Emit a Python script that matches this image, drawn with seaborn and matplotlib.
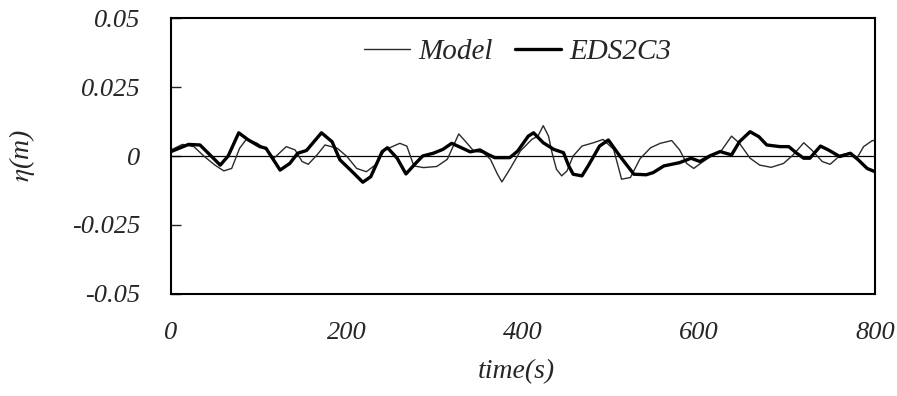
import matplotlib
matplotlib.use("Agg")
import matplotlib.pyplot as plt
import seaborn as sns
import pandas as pd

# ---- data ----
model_t = [0, 13, 26, 38, 50, 60, 69, 78, 86, 98, 109, 117, 131, 141, 149, 156, 166, 175, 189, 200,
           211, 222, 232, 243, 260, 268, 276, 287, 302, 314, 327, 336, 344, 355, 363, 371, 376, 385,
           397, 410, 417, 423, 429, 433, 438, 444, 450, 457, 467, 480, 491, 503, 512, 522, 533, 545,
           556, 569, 578, 586, 594, 603, 614, 626, 637, 646, 658, 669, 682, 696, 707, 719, 728, 740,
           749, 761, 770, 780, 787, 797, 800]
model_eta = [0.0022, 0.0042, 0.0034, -0.0002, -0.0033, -0.0054, -0.0045, 0.0028, 0.0062, 0.0046,
             0.0022, -0.0008, 0.0034, 0.0022, -0.0020, -0.0030, 0.0004, 0.0040, 0.0028, -0.0002,
             -0.0045, -0.0057, -0.0033, 0.0022, 0.0046, 0.0036, -0.0036, -0.0042, -0.0038, -0.0012,
             0.0080, 0.0048, 0.0018, 0.0012, -0.0012, -0.0066, -0.0094, -0.0048, 0.0018, 0.0060,
             0.0072, 0.0110, 0.0072, 0.0012, -0.0048, -0.0072, -0.0054, 0.0000, 0.0036, 0.0048,
             0.0060, 0.0024, -0.0084, -0.0078, -0.0010, 0.0030, 0.0046, 0.0056, 0.0022, -0.0027,
             -0.0045, -0.0024, 0.0000, 0.0022, 0.0072, 0.0046, -0.0008, -0.0033, -0.0041, -0.0027,
             0.0004, 0.0048, 0.0022, -0.0020, -0.0030, 0.0004, 0.0010, -0.0005, 0.0034, 0.0056,
             0.0056]

eds_t = [0, 20, 33, 56, 65, 77, 88, 101, 108, 124, 135, 144, 154, 171, 183, 192, 206, 218, 227, 240,
         246, 257, 267, 277, 286, 298, 309, 319, 330, 340, 351, 360, 368, 385, 394, 406, 412, 423,
         435, 446, 452, 457, 467, 474, 487, 497, 510, 526, 540, 548, 560, 578, 591, 601, 612, 624,
         637, 646, 658, 668, 677, 692, 702, 711, 719, 726, 738, 747, 760, 772, 781, 791, 800]
eds_eta = [0.0016, 0.0042, 0.0040, -0.0033, 0.0000, 0.0084, 0.0058, 0.0034, 0.0028, -0.0051,
           -0.0027, 0.0010, 0.0020, 0.0084, 0.0052, -0.0014, -0.0057, -0.0095, -0.0075, 0.0016,
           0.0030, -0.0008, -0.0065, -0.0030, 0.0000, 0.0010, 0.0024, 0.0046, 0.0030, 0.0015,
           0.0022, 0.0006, -0.0006, -0.0006, 0.0018, 0.0072, 0.0084, 0.0048, 0.0024, 0.0012,
           -0.0036, -0.0066, -0.0072, -0.0036, 0.0036, 0.0058, 0.0000, -0.0066, -0.0068, -0.0060,
           -0.0036, -0.0024, -0.0008, -0.0020, 0.0000, 0.0016, 0.0004, 0.0052, 0.0088, 0.0070,
           0.0040, 0.0034, 0.0034, 0.0010, -0.0008, -0.0008, 0.0036, 0.0022, -0.0002, 0.0010,
           -0.0014, -0.0045, -0.0057]

x_ticks = [0, 200, 400, 600, 800]
y_ticks = [-0.05, -0.025, 0, 0.025, 0.05]
y_tick_labels = ["-0.05", "-0.025", "0", "0.025", "0.05"]

sns.set_style("white")
plt.rcParams["font.family"] = ["Liberation Serif", "DejaVu Serif"]
plt.rcParams["mathtext.fontset"] = "stix"

fig = plt.figure(figsize=(8.97, 3.96), dpi=100)
ax = fig.add_axes([0.1906, 0.2576, 0.7849, 0.6969])

df_m = pd.DataFrame({"t": model_t, "eta": model_eta})
df_e = pd.DataFrame({"t": eds_t, "eta": eds_eta})

ax.axhline(0, color="black", lw=0.9, zorder=1)
sns.lineplot(data=df_m, x="t", y="eta", ax=ax, color="#2a2a2a", lw=1.0,
             label="Model", sort=False, zorder=2)
sns.lineplot(data=df_e, x="t", y="eta", ax=ax, color="black", lw=2.4,
             label="EDS2C3", sort=False, zorder=3)

ax.set_xlim(0, 800)
ax.set_ylim(-0.05, 0.05)
ax.set_xticks(x_ticks)
ax.set_xticklabels([str(v) for v in x_ticks], fontsize=19, style="italic")
ax.set_yticks(y_ticks)
ax.set_yticklabels(y_tick_labels, fontsize=19, style="italic")
ax.tick_params(axis="y", direction="in", length=7, width=1, pad=22, left=True)
ax.tick_params(axis="x", length=0, pad=20)

for s in ax.spines.values():
    s.set_visible(True)
    s.set_color("black")
    s.set_linewidth(1.5)

ax.set_xlabel("time(s)", fontsize=20, style="italic")
ax.xaxis.set_label_coords(0.491, -0.235)
ax.set_ylabel(r"$\eta$(m)", fontsize=20, style="italic")
ax.yaxis.set_label_coords(-0.19, 0.5)

leg = ax.legend(loc="center", bbox_to_anchor=(0.492, 0.877), ncol=2, frameon=False,
                fontsize=21, handlelength=1.6, columnspacing=0.75, handletextpad=0.27,
                borderpad=0.2)
for t in leg.get_texts():
    t.set_fontstyle("italic")

fig.savefig("out.png", dpi=100, facecolor="white")
